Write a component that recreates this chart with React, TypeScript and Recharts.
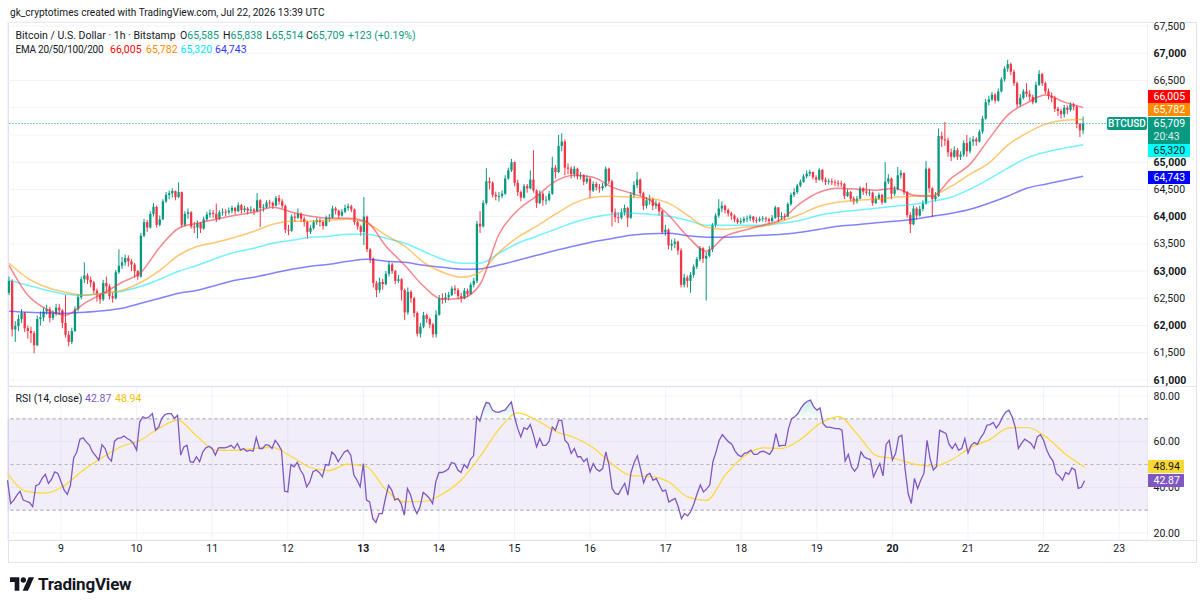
import React from 'react';
import {
  ComposedChart,
  Bar,
  Line,
  Area,
  XAxis,
  YAxis,
  CartesianGrid,
  ReferenceLine,
  ReferenceArea,
} from 'recharts';

// Hourly BTCUSD candles, Bitstamp. Each entry: [close, high, low, RSI(14)].
// The open of each candle is the close of the one before it.
type Candle = [number, number, number, number];

const FIRST_OPEN = 62600;

// Jul 8, 07:00–23:00
const jul08: Candle[] = [
  [62820, 62900, 62560, 43.1], [61930, 62850, 61800, 32.9], [61990, 62080, 61700, 34.4],
  [62120, 62200, 61900, 36.6], [62230, 62300, 62050, 38.3], [61950, 62250, 61880, 34.4],
  [61900, 62000, 61760, 33.9], [61860, 61980, 61680, 33.3], [61640, 61900, 61490, 31.5],
  [62120, 62180, 61620, 40.7], [62150, 62260, 62000, 41.3], [62260, 62330, 62080, 43.9],
  [62300, 62380, 62200, 45.7], [62140, 62340, 62060, 41.7], [62220, 62280, 62100, 43.6],
  [62330, 62400, 62180, 46.8], [62280, 62400, 62200, 46.1],
];
const jul09: Candle[] = [
  [62050, 62300, 61950, 42.4], [61830, 62560, 61780, 38.8], [61700, 61900, 61620, 36.9],
  [61900, 61960, 61660, 41.0], [62300, 62350, 61880, 52.9], [62520, 62580, 62260, 55.5],
  [62850, 62900, 62480, 61.1], [62920, 63160, 62780, 61.7], [62840, 62960, 62760, 59.9],
  [62790, 62900, 62700, 58.5], [62640, 62820, 62580, 55.5], [62560, 62680, 62440, 53.8],
  [62480, 62600, 62400, 51.9], [62780, 62840, 62450, 58.7], [62720, 62900, 62600, 57.0],
  [62540, 62760, 62480, 53.0], [62500, 62600, 62420, 51.5], [62980, 63020, 62480, 60.2],
  [63100, 63400, 62950, 61.4], [63160, 63260, 63040, 61.7], [63240, 63300, 63100, 62.5],
  [63180, 63290, 63080, 61.4], [63120, 63220, 63000, 60.6], [63000, 63150, 62880, 59.2],
];
const jul10: Candle[] = [
  [62900, 63020, 62840, 56.3], [63650, 63700, 62880, 68.7], [63900, 63960, 63620, 70.9],
  [63800, 63940, 63720, 70.2], [64050, 64100, 63780, 70.9], [64180, 64250, 64000, 72.3],
  [63850, 64200, 63800, 65.0], [63950, 64020, 63820, 66.4], [64280, 64320, 63940, 70.2],
  [64400, 64450, 64250, 71.9], [64430, 64480, 64320, 72.3], [64470, 64520, 64350, 72.3],
  [64360, 64480, 64300, 70.2], [64450, 64630, 64340, 71.6], [63850, 64460, 63800, 54.1],
  [64050, 64100, 63820, 57.7], [64080, 64150, 63960, 58.4], [63820, 64100, 63780, 51.2],
  [63800, 63900, 63700, 50.9], [63880, 63930, 63600, 53.4], [63780, 63900, 63700, 51.2],
  [63950, 64000, 63760, 55.5], [64040, 64090, 63920, 57.3], [64070, 64130, 63980, 58.0],
];
const jul11: Candle[] = [
  [64050, 64120, 63980, 57.0], [63960, 64240, 63900, 54.1], [64080, 64120, 63940, 57.3],
  [64090, 64150, 64020, 57.4], [64080, 64140, 64010, 57.3], [64110, 64170, 64040, 57.7],
  [64160, 64200, 64060, 58.4], [64100, 64180, 64040, 57.0], [64210, 64260, 64080, 59.2],
  [64120, 64230, 64060, 56.3], [64150, 64200, 64080, 57.0], [64110, 64180, 64040, 55.8],
  [64130, 64190, 64070, 56.3], [64100, 64160, 64030, 55.8], [64300, 64430, 64080, 61.8],
  [64160, 64320, 63810, 57.0], [64170, 64230, 64090, 57.0], [64260, 64300, 64150, 58.7],
  [64250, 64310, 64180, 58.4], [64200, 64280, 64140, 57.0], [64340, 64380, 64190, 60.6],
  [64280, 64400, 64220, 58.7], [64200, 64320, 64150, 56.3], [63760, 64220, 63700, 38.3],
];
const jul12: Candle[] = [
  [63740, 63850, 63660, 38.0], [64000, 64040, 63720, 50.0], [63980, 64060, 63900, 49.0],
  [64050, 64150, 63960, 50.9], [63960, 64080, 63900, 47.6], [63900, 64000, 63820, 45.4],
  [63720, 63920, 63590, 40.2], [63790, 63840, 63680, 42.4], [63900, 63940, 63760, 46.8],
  [63930, 63980, 63850, 47.6], [63900, 63970, 63820, 46.5], [63830, 63930, 63760, 44.6],
  [63980, 64020, 63820, 50.0], [63980, 64050, 63900, 49.7], [64150, 64200, 63960, 55.5],
  [64110, 64180, 64040, 54.1], [64020, 64130, 63960, 51.2], [64090, 64140, 64000, 53.4],
  [64160, 64220, 64060, 55.5], [64190, 64240, 64110, 56.3], [64130, 64220, 64080, 54.1],
  [63900, 64150, 63850, 45.4], [63820, 63930, 63760, 43.1], [63720, 63850, 63650, 40.2],
];
const jul13: Candle[] = [
  [64000, 64360, 63480, 50.4], [63400, 64020, 63350, 34.4], [63230, 63420, 63150, 33.6],
  [62780, 63250, 62700, 26.3], [62650, 62820, 62520, 24.6], [62800, 62880, 62600, 28.5],
  [62760, 62860, 62660, 28.5], [62950, 63000, 62740, 35.1], [63120, 63180, 62900, 40.9],
  [63000, 63150, 62950, 38.8], [62820, 63020, 62760, 34.4], [62850, 62930, 62780, 35.1],
  [62650, 62870, 62460, 32.9], [62240, 62680, 62100, 27.8], [62620, 62700, 62200, 39.5],
  [62500, 62650, 62420, 36.6], [62230, 62530, 62150, 31.5], [61850, 62260, 61800, 28.5],
  [61980, 62050, 61780, 31.5], [62190, 62250, 61950, 37.8], [62120, 62220, 62050, 36.6],
  [62020, 62150, 61950, 35.1], [61840, 62050, 61780, 32.9], [62200, 62280, 61780, 42.4],
];
const jul14: Candle[] = [
  [62500, 62560, 62180, 46.5], [62480, 62590, 62400, 46.5], [62520, 62600, 62420, 47.1],
  [62560, 62620, 62460, 48.0], [62680, 62720, 62540, 50.9], [62650, 62740, 62580, 50.4],
  [62540, 62690, 62480, 47.6], [62500, 62600, 62420, 46.5], [62640, 62690, 62480, 50.0],
  [62580, 62680, 62520, 48.5], [62750, 62790, 62560, 52.3], [62820, 62880, 62700, 53.8],
  [63870, 63920, 62780, 70.9], [63820, 64100, 63700, 69.0], [64250, 64300, 63800, 73.8],
  [64650, 64890, 64220, 77.2], [64620, 64720, 64500, 76.8], [64400, 64650, 64350, 73.8],
  [64370, 64460, 64300, 73.0], [64380, 64450, 64280, 72.8], [64420, 64480, 64340, 73.5],
  [64700, 64760, 64400, 73.8], [64850, 64900, 64680, 75.7], [65000, 65060, 64820, 77.4],
];
const jul15: Candle[] = [
  [64620, 65010, 64560, 70.9], [64450, 64680, 64380, 65.8], [64350, 64480, 64280, 62.1],
  [64560, 64600, 64330, 66.1], [64520, 64600, 64440, 65.4], [64680, 64850, 64500, 67.5],
  [64480, 65220, 64440, 63.1], [64250, 64500, 64160, 57.7], [64420, 64480, 64230, 61.4],
  [64300, 64450, 64200, 58.4], [64310, 64380, 64220, 58.4], [64420, 64470, 64280, 60.2],
  [64900, 65100, 64400, 66.4], [64820, 64950, 64700, 65.0], [65300, 65500, 64800, 69.3],
  [65380, 65530, 65200, 69.3], [64900, 65420, 64760, 60.6], [64880, 64980, 64780, 59.2],
  [64780, 64920, 64700, 54.8], [64880, 64930, 64720, 57.0], [64740, 64900, 64680, 53.4],
  [64760, 64820, 64680, 53.4], [64640, 64780, 64580, 51.2], [64700, 64760, 64600, 52.6],
];
const jul16: Candle[] = [
  [64480, 64720, 64340, 46.8], [64600, 64650, 64450, 50.4], [64540, 64640, 64480, 47.9],
  [64520, 64600, 64440, 47.1], [64560, 64620, 64480, 48.2], [64880, 64920, 64540, 55.5],
  [64650, 64900, 64600, 49.7], [64080, 64680, 63820, 39.5], [63990, 64150, 63900, 37.3],
  [63980, 64080, 63880, 36.9], [64080, 64150, 63950, 39.5], [64160, 64220, 64020, 41.7],
  [63980, 64180, 63810, 36.6], [64400, 64450, 63960, 46.5], [64580, 64650, 64350, 50.9],
  [64680, 64820, 64520, 53.8], [64430, 64700, 64380, 48.2], [64200, 64460, 64120, 42.0],
  [64300, 64360, 64150, 45.4], [64320, 64400, 64220, 46.1], [64200, 64350, 64120, 43.1],
  [64240, 64300, 64140, 43.9], [64100, 64270, 64020, 41.0], [63720, 64120, 63680, 38.3],
];
const jul17: Candle[] = [
  [63760, 63850, 63650, 38.8], [63470, 63780, 63400, 33.6], [63500, 63580, 63380, 34.4],
  [63540, 63600, 63420, 35.1], [63380, 63560, 63300, 31.5], [62750, 63420, 62700, 26.3],
  [62880, 62950, 62700, 28.5], [62820, 62920, 62700, 27.5], [62930, 62980, 62600, 29.5],
  [63080, 63120, 62880, 32.9], [63220, 63260, 63040, 37.3], [63420, 63460, 63180, 41.0],
  [63230, 63440, 63150, 38.0], [63280, 63350, 62460, 39.3], [63400, 63460, 63250, 41.0],
  [63850, 63880, 63350, 51.2], [64020, 64060, 63800, 55.5], [64150, 64320, 63980, 60.6],
  [64200, 64280, 64080, 63.1], [64120, 64220, 64060, 61.4], [64060, 64150, 64000, 59.9],
  [64020, 64090, 63940, 58.9], [63950, 64040, 63900, 56.0], [63900, 63980, 63860, 54.2],
];
const jul18: Candle[] = [
  [63920, 63980, 63860, 53.4], [63960, 64000, 63880, 54.9], [63970, 64020, 63900, 55.2],
  [64000, 64040, 63920, 56.3], [63940, 64010, 63890, 54.4], [63930, 63990, 63880, 54.4],
  [63960, 64000, 63900, 55.5], [63970, 64010, 63910, 55.8], [63950, 64000, 63900, 55.2],
  [63920, 63980, 63870, 54.4], [63980, 64030, 63900, 56.6], [64170, 64200, 63960, 63.6],
  [63990, 64170, 63900, 58.0], [64010, 64080, 63940, 58.4], [64000, 64060, 63930, 58.4],
  [64230, 64260, 63990, 65.7], [64400, 64440, 64200, 70.1], [64450, 64520, 64360, 70.9],
  [64570, 64600, 64420, 72.3], [64640, 64680, 64540, 74.8], [64740, 64780, 64620, 76.6],
  [64790, 64850, 64700, 77.7], [64820, 64860, 64740, 78.2], [64720, 64830, 64680, 75.3],
];
const jul19: Candle[] = [
  [64680, 64760, 64620, 73.8], [64860, 64890, 64660, 74.8], [64680, 64870, 64640, 67.9],
  [64640, 64720, 64580, 66.4], [64650, 64700, 64590, 66.4], [64630, 64700, 64580, 66.0],
  [64620, 64680, 64560, 65.7], [64610, 64670, 64550, 65.7], [64600, 64660, 64540, 65.0],
  [64380, 64620, 64320, 51.5], [64450, 64500, 64360, 54.4], [64330, 64470, 64280, 49.0],
  [64280, 64370, 64220, 47.1], [64330, 64380, 64240, 49.0], [64520, 64560, 64320, 55.5],
  [64460, 64540, 64400, 53.4], [64440, 64620, 64390, 52.6], [64440, 64500, 64380, 52.3],
  [64250, 64460, 64200, 44.6], [64330, 64380, 64230, 47.6], [64400, 64440, 64310, 50.4],
  [64260, 64420, 64220, 45.0], [64640, 65000, 64250, 58.8], [64700, 64780, 64600, 60.6],
];
const jul20: Candle[] = [
  [64420, 64720, 64320, 51.9], [64500, 64560, 64380, 54.8], [64760, 64910, 64480, 62.1],
  [64800, 64860, 64700, 62.8], [64450, 64810, 64400, 48.2], [64030, 64470, 63980, 37.3],
  [63860, 64080, 63700, 32.9], [64150, 64200, 63840, 43.9], [64020, 64180, 63950, 39.5],
  [64140, 64200, 64000, 43.1], [64240, 64300, 64100, 46.1], [64880, 65020, 64220, 60.6],
  [64520, 64900, 64440, 52.3], [64320, 64540, 63990, 47.6], [64380, 64450, 64280, 49.0],
  [65480, 65620, 64360, 65.0], [65420, 65560, 65280, 64.3], [65400, 65740, 65300, 63.6],
  [65180, 65450, 65100, 58.8], [65100, 65250, 65020, 57.0], [65220, 65290, 65080, 59.2],
  [65100, 65260, 65040, 56.3], [65140, 65200, 65040, 57.0], [65350, 65400, 65100, 61.4],
];
const jul21: Candle[] = [
  [65200, 65500, 65100, 55.0], [65380, 65450, 65160, 58.4], [65420, 65480, 65300, 59.6],
  [65380, 65460, 65300, 58.8], [65560, 65600, 65360, 61.7], [65800, 65850, 65520, 63.6],
  [66100, 66160, 65780, 67.2], [66150, 66220, 66040, 67.5], [66240, 66290, 66120, 68.4],
  [66130, 66270, 66080, 66.0], [66300, 66350, 66110, 67.9], [66520, 66560, 66280, 70.9],
  [66720, 66760, 66480, 73.0], [66800, 66880, 66660, 73.8], [66660, 66830, 66600, 70.9],
  [66450, 66700, 66400, 66.4], [66060, 66480, 66000, 57.0], [66180, 66250, 66020, 59.2],
  [66300, 66340, 66150, 61.1], [66250, 66450, 66200, 60.2], [66200, 66320, 66130, 59.2],
  [66100, 66240, 66060, 57.0], [66420, 66480, 66080, 62.1], [66620, 66690, 66400, 63.1],
];
// Jul 22, 00:00–13:00 (13:00 still forming)
const jul22: Candle[] = [
  [66450, 66640, 66400, 60.6], [66300, 66480, 66250, 56.3], [66220, 66350, 66150, 53.4],
  [66180, 66280, 66100, 51.5], [65980, 66220, 65920, 46.1], [65940, 66020, 65850, 45.0],
  [65880, 65980, 65800, 43.1], [66000, 66050, 65820, 46.5], [65960, 66040, 65880, 45.7],
  [66060, 66100, 65930, 48.5], [66020, 66090, 65950, 47.6], [65700, 66040, 65620, 39.5],
  [65585, 65720, 65460, 40.0], [65709, 65838, 65514, 42.87],
];

// Moving averages, one value every 6 hours starting Jul 8 07:00.
const ema20: number[] = [
  63107, 62556, 62298, 62188, 62409, 62593, 62795, 62979, 63438, 63787, 63879, 63953, 64026, 64081,
  64173, 64081, 64008, 63971, 63971, 63897, 63457, 63107, 62721, 62483, 62501, 62758, 63677, 64118,
  64375, 64651, 64761, 64725, 64541, 64431, 64302, 64026, 63640, 63364, 63640, 63750, 63842, 63952,
  64247, 64449, 64522, 64504, 64486, 64522, 64394, 64375, 64706, 64964, 65423, 65864, 66085, 66232,
  66103, 66005,
];
const ema50: number[] = [
  63144, 62868, 62703, 62611, 62556, 62593, 62648, 62795, 63015, 63291, 63456, 63530, 63622, 63732,
  63861, 63916, 63916, 63934, 63953, 63879, 63659, 63456, 63162, 62979, 62887, 62979, 63346, 63622,
  63824, 64045, 64247, 64357, 64375, 64357, 64339, 64247, 64026, 63806, 63769, 63806, 63824, 63916,
  64045, 64192, 64265, 64302, 64320, 64357, 64375, 64394, 64559, 64780, 64982, 65313, 65533, 65699,
  65772, 65782,
];
const ema100: number[] = [
  62831, 62740, 62648, 62574, 62556, 62593, 62630, 62721, 62850, 62997, 63107, 63236, 63346, 63420,
  63512, 63567, 63622, 63640, 63677, 63677, 63604, 63512, 63365, 63217, 63144, 63144, 63328, 63512,
  63640, 63769, 63897, 63990, 64045, 64063, 64045, 64008, 63934, 63842, 63842, 63842, 63842, 63879,
  63934, 64026, 64081, 64118, 64155, 64192, 64228, 64284, 64357, 64504, 64688, 64890, 65074, 65184,
  65258, 65320,
];
const ema200: number[] = [
  62262, 62243, 62234, 62225, 62243, 62271, 62317, 62409, 62501, 62593, 62648, 62740, 62831, 62887,
  62960, 63034, 63089, 63126, 63181, 63218, 63181, 63162, 63107, 63070, 63034, 63040, 63110, 63200,
  63290, 63380, 63460, 63540, 63600, 63659, 63686, 63695, 63650, 63622, 63622, 63640, 63659, 63677,
  63714, 63769, 63824, 63852, 63888, 63916, 63953, 64008, 64063, 64137, 64247, 64375, 64522, 64596,
  64670, 64743,
];
const rsiMa: number[] = [
  46.1, 38.2, 37.5, 40.7, 47.5, 53.0, 57.8, 60.5, 65.8, 69.4, 62.6, 56.3, 56.2, 57.0, 57.5, 53.6,
  48.8, 47.3, 50.2, 49.0, 39.2, 33.6, 33.8, 37.0, 43.1, 53.4, 65.3, 72.6, 69.4, 64.5, 61.8, 57.3,
  50.2, 45.1, 44.8, 42.3, 35.8, 34.3, 45.5, 53.7, 57.3, 57.1, 61.2, 68.0, 71.0, 63.0, 53.8, 52.5,
  50.2, 49.3, 52.2, 57.6, 61.0, 66.0, 66.2, 61.8, 54.5, 48.94,
];

const dayLabels = ['9', '10', '11', '12', '13', '14', '15', '16', '17', '18', '19', '20', '21', '22', '23'];
const weekStartLabels = ['13', '20'];
const priceTicks = [61000, 61500, 62000, 62500, 63000, 63500, 64000, 64500, 65000, 65500, 66000, 66500, 67000, 67500];
// price levels whose scale label sits under the EMA / last-price tags
const coveredPriceTicks = [65500, 66000];
const rsiTicks = [20, 40, 60, 80];
const RSI_OB = 70;
const RSI_OS = 30;

const LAST = { o: 65585, h: 65838, l: 65514, c: 65709, chg: 123, pct: 0.19 };

// ---- layout constants ----
const SLOTS = 363; // hourly slots on the time axis (incl. empty space on the right)
const FIRST_DAY_SLOT = 17; // Jul 9 00:00
const MA_STEP = 6;
const PLOT_L = 7.5;
const PLOT_R = 1147.5;
const SCALE_W = 1200 - PLOT_R;
const FONT = 'Roboto, "Noto Sans", sans-serif';
const TEXT = '#131722';
const UP = '#089981';
const DOWN = '#f23645';

const candles: Candle[] = [
  ...jul08, ...jul09, ...jul10, ...jul11, ...jul12, ...jul13, ...jul14, ...jul15,
  ...jul16, ...jul17, ...jul18, ...jul19, ...jul20, ...jul21, ...jul22,
];

type Row = {
  t: number;
  o?: number; h?: number; l?: number; c?: number;
  range?: [number, number];
  rsi?: number; rsiHi?: number; rsiLo?: number;
  ema20?: number; ema50?: number; ema100?: number; ema200?: number; rsiMa?: number;
};

const rows: Row[] = [];
{
  let prevClose = FIRST_OPEN;
  for (let i = 0; i < SLOTS; i++) {
    const row: Row = { t: i };
    const k = candles[i];
    if (k) {
      const [c, h, l, r] = k;
      const o = prevClose;
      row.o = o; row.c = c; row.h = h; row.l = l; row.rsi = r;
      // RSI clamped to the band edges, used for the overbought / oversold shading
      row.rsiHi = Math.max(r, RSI_OB);
      row.rsiLo = Math.min(r, RSI_OS);
      row.range = [Math.min(l, o, c), Math.max(h, o, c)];
      prevClose = c;
    }
    if (i % MA_STEP === 0) {
      const j = i / MA_STEP;
      if (j < ema20.length) {
        row.ema20 = ema20[j]; row.ema50 = ema50[j]; row.ema100 = ema100[j];
        row.ema200 = ema200[j]; row.rsiMa = rsiMa[j];
      }
    }
    rows.push(row);
  }
}

const dayTicks = dayLabels.map((_, d) => FIRST_DAY_SLOT + 24 * d);
const fmtPrice = (v: number) => v.toLocaleString('en-US');
const lastRsi = candles[candles.length - 1][3];
const lastRsiMa = rsiMa[rsiMa.length - 1];

const CandleShape = (props: any) => {
  const { x, y, width, height, payload } = props;
  if (!payload || payload.o == null) return null;
  const { o, c, range } = payload as Row;
  const [lo, hi] = range as [number, number];
  const top = Math.min(y, y + height);
  const hh = Math.abs(height);
  const span = hi - lo || 1;
  const k = hh / span;
  const cx = x + width / 2;
  const color = (c as number) >= (o as number) ? UP : DOWN;
  const bTop = top + (hi - Math.max(o as number, c as number)) * k;
  const bBot = top + (hi - Math.min(o as number, c as number)) * k;
  const bw = 2.3;
  return (
    <g>
      <line x1={cx} x2={cx} y1={top} y2={top + hh} stroke={color} strokeWidth={1} />
      <rect x={cx - bw / 2} y={bTop} width={bw} height={Math.max(0.8, bBot - bTop)} fill={color} />
    </g>
  );
};

const PriceTick = (props: any) => {
  const { x, y, payload } = props;
  const v = payload.value as number;
  if (coveredPriceTicks.includes(v)) return null;
  return (
    <text x={x} y={y} dy={3.6} fontSize={10.5} fontFamily={FONT} fill={TEXT}
      fontWeight={v % 1000 === 0 ? 700 : 400} textAnchor="start">
      {fmtPrice(v)}
    </text>
  );
};

const RsiTick = (props: any) => {
  const { x, y, payload } = props;
  return (
    <text x={x} y={y} dy={3.6} fontSize={10.5} fontFamily={FONT} fill={TEXT} textAnchor="start">
      {(payload.value as number).toFixed(2)}
    </text>
  );
};

const DayTick = (props: any) => {
  const { x, y, payload } = props;
  const idx = dayTicks.indexOf(payload.value);
  const label = dayLabels[idx] ?? '';
  return (
    <text x={x} y={y} dy={9} fontSize={10.5} fontFamily={FONT} fill={TEXT} textAnchor="middle"
      fontWeight={weekStartLabels.includes(label) ? 700 : 400}>
      {label}
    </text>
  );
};

const Tag = (p: { top: number; left?: number; width?: number; height?: number; bg: string; color: string; children: React.ReactNode }) => (
  <div style={{
    position: 'absolute', top: p.top, left: p.left ?? PLOT_R, width: p.width ?? 42, height: p.height ?? 13,
    background: p.bg, color: p.color, fontSize: 10.5, lineHeight: `${p.height ?? 13}px`,
    fontFamily: FONT, paddingLeft: 6, boxSizing: 'border-box', whiteSpace: 'nowrap',
  }}>{p.children}</div>
);

const Txt = (p: { left: number; top: number; color?: string; size?: number; spacing?: number; children: React.ReactNode }) => (
  <div style={{
    position: 'absolute', left: p.left, top: p.top, fontSize: p.size ?? 10.5, color: p.color ?? TEXT,
    whiteSpace: 'nowrap', lineHeight: '13px', letterSpacing: p.spacing ?? 0,
  }}>
    {p.children}
  </div>
);

const Logo = () => (
  <div style={{ position: 'absolute', left: 10, top: 574, display: 'flex', alignItems: 'center', gap: 4 }}>
    <svg width={24} height={14} viewBox="0 0 36 20">
      <path d="M0 0h14v20H7V7H0z" fill="#131722" />
      <circle cx={20} cy={4} r={4} fill="#131722" />
      <path d="M28 0h8l-9 20h-8z" fill="#131722" />
    </svg>
    <span style={{ fontFamily: FONT, fontWeight: 700, fontSize: 17, color: TEXT, letterSpacing: -0.2 }}>TradingView</span>
  </div>
);

export default function App() {
  const lastY = 123.4;
  return (
    <div style={{ position: 'fixed', left: 0, top: 0, width: 1200, height: 609, background: '#fff', overflow: 'hidden', fontFamily: FONT }}>
      {/* frame */}
      <div style={{ position: 'absolute', left: 8, top: 22, width: 1189, height: 541, border: '1px solid #e0e3eb', boxSizing: 'border-box' }} />
      <div style={{ position: 'absolute', left: 8, top: 386, width: 1189, height: 1, background: '#e0e3eb' }} />

      {/* price pane */}
      <div style={{ position: 'absolute', left: 0, top: 0 }}>
        <ComposedChart width={1200} height={386} data={rows}
          margin={{ top: 22, right: 0, bottom: 0, left: PLOT_L }}>
          <CartesianGrid stroke="#f0f3fa" />
          <XAxis dataKey="t" type="category" ticks={dayTicks} interval={0} height={0}
            tick={false} tickLine={false} axisLine={false} />
          <YAxis orientation="right" width={SCALE_W} domain={[60890, 67574]} allowDataOverflow
            ticks={priceTicks} interval={0} tickSize={0} tickMargin={6} axisLine={false} tick={<PriceTick />} />
          <ReferenceLine y={LAST.c} stroke={UP} strokeDasharray="1 2" strokeWidth={1} />
          <Line dataKey="ema200" type="monotone" stroke="#2f2fff" strokeOpacity={0.6} strokeWidth={1.5} dot={false} activeDot={false} connectNulls isAnimationActive={false} />
          <Line dataKey="ema100" type="monotone" stroke="#00e5ff" strokeOpacity={0.55} strokeWidth={1.5} dot={false} activeDot={false} connectNulls isAnimationActive={false} />
          <Line dataKey="ema50" type="monotone" stroke="#ff9800" strokeOpacity={0.55} strokeWidth={1.5} dot={false} activeDot={false} connectNulls isAnimationActive={false} />
          <Line dataKey="ema20" type="monotone" stroke="#f23645" strokeOpacity={0.6} strokeWidth={1.5} dot={false} activeDot={false} connectNulls isAnimationActive={false} />
          <Bar dataKey="range" shape={<CandleShape />} barSize={3} isAnimationActive={false} />
        </ComposedChart>
      </div>

      {/* RSI pane */}
      <div style={{ position: 'absolute', left: 0, top: 387 }}>
        <ComposedChart width={1200} height={176} data={rows}
          margin={{ top: 0, right: 0, bottom: 0, left: PLOT_L }}>
          <defs>
            <linearGradient id="obFill" x1="0" y1="0" x2="0" y2="1">
              <stop offset="0%" stopColor="#089981" stopOpacity={0.35} />
              <stop offset="100%" stopColor="#089981" stopOpacity={0.03} />
            </linearGradient>
            <linearGradient id="osFill" x1="0" y1="0" x2="0" y2="1">
              <stop offset="0%" stopColor="#f23645" stopOpacity={0.03} />
              <stop offset="100%" stopColor="#f23645" stopOpacity={0.35} />
            </linearGradient>
          </defs>
          <CartesianGrid stroke="#f0f3fa" />
          <XAxis dataKey="t" type="category" ticks={dayTicks} interval={0} height={23}
            tickSize={0} tickMargin={3} tickLine={false} axisLine={false} tick={<DayTick />} />
          <YAxis orientation="right" width={SCALE_W} domain={[16.93, 83.94]} allowDataOverflow
            ticks={rsiTicks} interval={0} tickSize={0} tickMargin={6} axisLine={false} tick={<RsiTick />} />
          <ReferenceArea y1={RSI_OS} y2={RSI_OB} fill="#7e57c2" fillOpacity={0.1} stroke="none" />
          <ReferenceLine y={RSI_OB} stroke="#787b86" strokeDasharray="3 3" strokeOpacity={0.7} />
          <ReferenceLine y={50} stroke="#787b86" strokeDasharray="3 3" strokeOpacity={0.5} />
          <ReferenceLine y={RSI_OS} stroke="#787b86" strokeDasharray="3 3" strokeOpacity={0.7} />
          <Area dataKey="rsiHi" baseValue={RSI_OB} type="linear" stroke="none" fill="url(#obFill)" dot={false} activeDot={false} isAnimationActive={false} />
          <Area dataKey="rsiLo" baseValue={RSI_OS} type="linear" stroke="none" fill="url(#osFill)" dot={false} activeDot={false} isAnimationActive={false} />
          <Line dataKey="rsiMa" type="monotone" stroke="#fdd835" strokeWidth={1.2} dot={false} activeDot={false} connectNulls isAnimationActive={false} />
          <Line dataKey="rsi" type="linear" stroke="#7e57c2" strokeWidth={1.3} dot={false} activeDot={false} isAnimationActive={false} />
        </ComposedChart>
      </div>
      <div style={{ position: 'absolute', left: 8, top: 540, width: 1189, height: 1, background: '#e0e3eb' }} />

      {/* header */}
      <Txt left={10} top={6} size={10.1}>gk_cryptotimes created with TradingView.com, Jul 22, 2026 13:39 UTC</Txt>
      <Txt left={15.5} top={29}>Bitcoin / U.S. Dollar · 1h · Bitstamp</Txt>
      <Txt left={180} top={29}>O<span style={{ color: UP }}>{fmtPrice(LAST.o)}</span></Txt>
      <Txt left={223} top={29}>H<span style={{ color: UP }}>{fmtPrice(LAST.h)}</span></Txt>
      <Txt left={266} top={29}>L<span style={{ color: UP }}>{fmtPrice(LAST.l)}</span></Txt>
      <Txt left={306} top={29}>C<span style={{ color: UP }}>{fmtPrice(LAST.c)}</span></Txt>
      <Txt left={348} top={29} color={UP}>+{LAST.chg} (+{LAST.pct.toFixed(2)}%)</Txt>

      <Txt left={15.5} top={43} size={10} spacing={-0.25}>EMA 20/50/100/200</Txt>
      <Txt left={110} top={43} color="#ff0000">{fmtPrice(ema20[ema20.length - 1])}</Txt>
      <Txt left={146} top={43} color="#ff8c00">{fmtPrice(ema50[ema50.length - 1])}</Txt>
      <Txt left={180.5} top={43} color="#00e5ff">{fmtPrice(ema100[ema100.length - 1])}</Txt>
      <Txt left={215} top={43} color="#3333ff">{fmtPrice(ema200[ema200.length - 1])}</Txt>

      <Txt left={15.5} top={392}>RSI (14, close)</Txt>
      <Txt left={85} top={392} color="#7e57c2">{lastRsi.toFixed(2)}</Txt>
      <Txt left={115} top={392} color="#f2c200">{lastRsiMa.toFixed(2)}</Txt>

      {/* price scale tags */}
      <Tag top={90} bg="#ff0000" color="#fff">{fmtPrice(ema20[ema20.length - 1])}</Tag>
      <Tag top={103.3} bg="#ff8c00" color="#fff">{fmtPrice(ema50[ema50.length - 1])}</Tag>
      <div style={{
        position: 'absolute', left: PLOT_R, top: 117, width: 42, height: 26.5, background: UP, color: '#fff',
        fontSize: 10.5, lineHeight: '12.5px', paddingLeft: 6, paddingTop: 1, boxSizing: 'border-box',
      }}>
        <div>{fmtPrice(LAST.c)}</div>
        <div style={{ opacity: 0.85 }}>20:43</div>
      </div>
      <Tag top={143.8} bg="#00ffff" color={TEXT}>{fmtPrice(ema100[ema100.length - 1])}</Tag>
      <Tag top={170.6} bg="#0000ff" color="#fff">{fmtPrice(ema200[ema200.length - 1])}</Tag>
      <div style={{
        position: 'absolute', left: 1107, top: lastY - 6.5, width: 40, height: 13, background: UP, color: '#fff',
        fontSize: 10, lineHeight: '13px', textAlign: 'center', borderRadius: 2, fontWeight: 500,
      }}>BTCUSD</div>

      {/* RSI scale tags */}
      <Tag top={460.4} width={36} bg="#fdd835" color={TEXT}>{lastRsiMa.toFixed(2)}</Tag>
      <Tag top={474.3} width={36} bg="#7e57c2" color="#fff">{lastRsi.toFixed(2)}</Tag>

      <Logo />
    </div>
  );
}
